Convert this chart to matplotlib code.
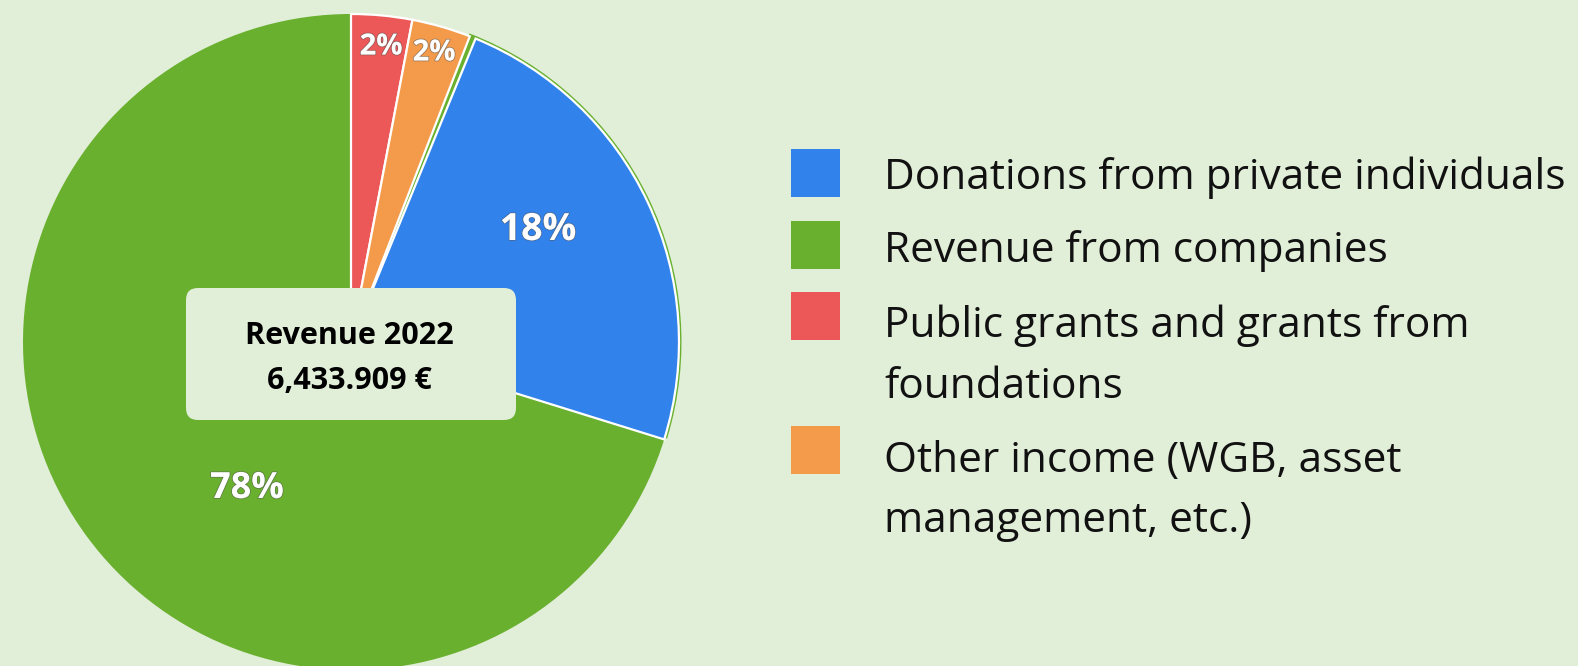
import matplotlib.pyplot as plt
import matplotlib.patheffects as pe
from matplotlib.patches import Rectangle, FancyBboxPatch, Wedge

plt.rcParams['font.family'] = ['Open Sans', 'DejaVu Sans']

slice_names = ["Public grants", "Other income", "Companies (sliver)", "Private donations", "Companies"]
slice_values = [3.0, 2.9, 0.3, 23.6, 70.2]
slice_colors = ["#EC5858", "#F49B4B", "#6AB02F", "#3182EB", "#6AB02F"]
pct_labels = ["2%", "2%", "", "18%", "78%"]

legend_labels = [
    "Donations from private individuals",
    "Revenue from companies",
    "Public grants and grants from\nfoundations",
    "Other income (WGB, asset\nmanagement, etc.)",
]
legend_colors = ["#3182EB", "#6AB02F", "#EC5858", "#F49B4B"]

center_title = "Revenue 2022"
center_value = "6,433.909 €"

BG = "#E1EED8"
W, H = 1578, 666


def Y(y):
    return H - y


fig = plt.figure(figsize=(15.78, 6.66), dpi=100, facecolor=BG)
ax = fig.add_axes([0, 0, 1, 1])
ax.set_facecolor(BG)

cx, cy, r = 351, Y(342), 328

# thin green rim visible behind the blue slice
ax.add_patch(Wedge((cx, cy), r + 2.5, -17, 69, facecolor="#6AB02F", edgecolor="none", zorder=0))

wedges, _ = ax.pie(
    slice_values,
    colors=slice_colors,
    startangle=90,
    counterclock=False,
    center=(cx, cy),
    radius=r,
    wedgeprops=dict(edgecolor="white", linewidth=1.6),
    frame=True,
)
# green slices have no outline of their own
for i in (2, 4):
    wedges[i].set_edgecolor("none")
    wedges[i].set_zorder(0.5)

ax.set_xlim(0, W)
ax.set_ylim(0, H)
ax.axis("off")

# percent labels
label_pos = [(381, 47), (434, 53), None, (538, 230), (247, 489)]
label_size = [21, 21, 0, 27, 26]
shadow = [pe.withStroke(linewidth=1.2, foreground="#55555588")]
for txt, pos, fs in zip(pct_labels, label_pos, label_size):
    if txt and pos:
        ax.text(pos[0], Y(pos[1]), txt, color="white", fontsize=fs,
                fontweight="bold", ha="center", va="center", path_effects=shadow)

# centre box
ax.add_patch(FancyBboxPatch((186, Y(420)), 330, 132,
                            boxstyle="round,pad=0,rounding_size=12",
                            facecolor=BG, edgecolor="none", zorder=5))
ax.text(349, Y(336), center_title, fontsize=22, fontweight="bold",
        ha="center", va="center", zorder=6)
ax.text(349, Y(381), center_value, fontsize=22, fontweight="bold",
        ha="center", va="center", zorder=6)

# legend
sq_y = [173, 245, 316, 450]
txt_y = [178, 251, 356, 491]
for lab, col, sy, ty in zip(legend_labels, legend_colors, sq_y, txt_y):
    ax.add_patch(Rectangle((791, Y(sy) - 24), 49, 48, facecolor=col, edgecolor="none"))
    ax.text(884, Y(ty), lab, fontsize=30.5, ha="left", va="center",
            linespacing=1.58, color="#111111")

fig.savefig("out.png", dpi=100, facecolor=BG)
